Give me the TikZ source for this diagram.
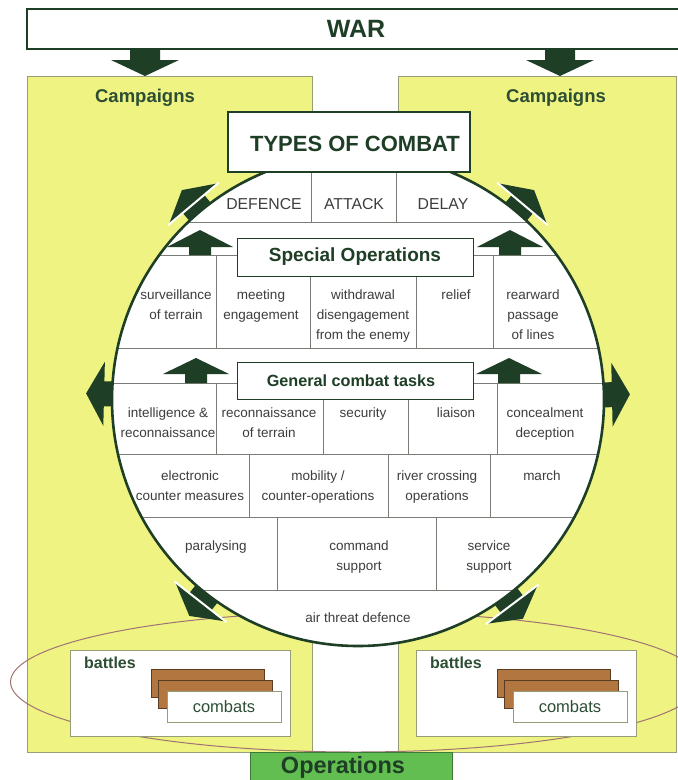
\documentclass[tikz,border=0pt]{standalone}
\usepackage{fontspec}
\setmainfont{Liberation Sans}
\definecolor{yel}{RGB}{238,243,130}
\definecolor{panelb}{RGB}{150,158,120}
\definecolor{dgreen}{RGB}{30,62,38}
\definecolor{tgreen}{RGB}{45,78,52}
\definecolor{txt}{RGB}{60,62,60}
\definecolor{lin}{RGB}{120,125,118}
\definecolor{brownc}{RGB}{178,118,64}
\definecolor{browne}{RGB}{90,60,35}
\definecolor{opgreen}{RGB}{98,190,81}
\definecolor{opedge}{RGB}{60,120,55}
\definecolor{ellc}{RGB}{160,115,115}
\begin{document}
\begin{tikzpicture}[x=1pt,y=-1pt,
  panel/.style={fill=yel,draw=panelb,line width=0.8pt},
  wbox/.style={fill=white,draw=dgreen,line width=1.2pt},
  gline/.style={draw=lin,line width=0.8pt},
  darrow/.style={fill=dgreen,draw=none},
  small/.style={font=\fontsize{13.5}{20}\selectfont,text=txt,align=center,inner sep=0pt},
  caps/.style={font=\fontsize{15.8}{18}\selectfont,text=txt,inner sep=0pt},
  title/.style={font=\bfseries\fontsize{22}{25}\selectfont,text=dgreen,inner sep=0pt},
  camp/.style={font=\bfseries\fontsize{18.5}{21}\selectfont,text=tgreen,inner sep=0pt},
  sub/.style={font=\bfseries\fontsize{19}{22}\selectfont,text=dgreen,inner sep=0pt},
  batt/.style={font=\bfseries\fontsize{16}{19}\selectfont,text=tgreen,inner sep=0pt},
  comb/.style={font=\fontsize{16.5}{19}\selectfont,text=tgreen,inner sep=0pt}]
\useasboundingbox (0,0) rectangle (678,780);
\fill[white] (0,0) rectangle (678,780);

% yellow campaign panels
\draw[panel] (27,76) rectangle (312,752);
\draw[panel] (398,76) rectangle (676,752);
\node[camp] (campL) at (145,98) {Campaigns};
\node[camp] (campR) at (556,98) {Campaigns};

% WAR box
\draw[wbox] (27,9) rectangle (700,49);
\node[font=\bfseries\fontsize{25}{28}\selectfont,text=dgreen,inner sep=0pt] (war) at (356,29) {WAR};

% down arrows from WAR
\foreach \cx in {145,560}{
  \fill[darrow] (\cx-15,49) -- (\cx+15,49) -- (\cx+15,60) -- (\cx+34,60) -- (\cx,76) -- (\cx-34,60) -- (\cx-15,60) -- cycle;
}

% operations ellipse
\draw[ellc,line width=1pt] (355.5,682) ellipse [x radius=345, y radius=70];

% radial arrows (side)
\foreach \ang in {178.6,1.2}{
  \begin{scope}[shift={(358,400)},rotate=\ang]
    \fill[darrow] (240,-12.5) -- (254,-12.5) -- (254,-32) -- (272,0) -- (254,32) -- (254,12.5) -- (240,12.5) -- cycle;
  \end{scope}
}
% radial arrows (diagonal)
\foreach \ang in {130,50,232,-53}{
  \begin{scope}[shift={(358,400)},rotate=\ang]
    \fill[darrow] (240,-14) -- (256,-14) -- (256,-32) -- (274,0) -- (256,32) -- (256,14) -- (240,14) -- cycle;
    \draw[white,line width=2pt] (256,-33) -- (256,33);
  \end{scope}
}

% big circle
\fill[white] (358,400) circle [radius=246];
\begin{scope}
  \clip (358,400) circle [radius=246];
  \foreach \yy in {222,255,348,383,454,517,590}{
    \draw[gline] (100,\yy) -- (620,\yy);
  }
  % dividers
  \draw[gline] (311,172) -- (311,222);
  \draw[gline] (396,172) -- (396,222);
  \draw[gline] (216,255) -- (216,348);
  \draw[gline] (310,276) -- (310,348);
  \draw[gline] (416,276) -- (416,348);
  \draw[gline] (493,255) -- (493,348);
  \draw[gline] (216,383) -- (216,454);
  \draw[gline] (323,399) -- (323,454);
  \draw[gline] (408,399) -- (408,454);
  \draw[gline] (497,383) -- (497,454);
  \draw[gline] (249,454) -- (249,517);
  \draw[gline] (388,454) -- (388,517);
  \draw[gline] (490,454) -- (490,517);
  \draw[gline] (277,517) -- (277,590);
  \draw[gline] (436,517) -- (436,590);
\end{scope}
\draw[dgreen,line width=2.6pt] (358,400) circle [radius=246];

% TYPES OF COMBAT box
\draw[wbox] (228,112) rectangle (470,172);
\node[title] (types) at (355,144) {TYPES OF COMBAT};

% DEFENCE row
\node[caps] (def) at (264,204) {DEFENCE};
\node[caps] (att) at (354,204) {ATTACK};
\node[caps] (del) at (443,204) {DELAY};

% small up arrows
\foreach \cx/\ytop/\ybase/\ybot in {200/230/247/255, 510/230/247/255, 196/358/374/383, 509/358/374/383}{
  \fill[darrow] (\cx-11,\ybot) -- (\cx+11,\ybot) -- (\cx+11,\ybase) -- (\cx+33,\ybase) -- (\cx,\ytop) -- (\cx-33,\ybase) -- (\cx-11,\ybase) -- cycle;
}

% Special operations
\draw[wbox,line width=1pt] (237,238) rectangle (473,276);
\node[sub] (spec) at (355,257) {Special Operations};
\node[small,anchor=north] (surv) at (176,290) {surveillance\\of terrain};
\node[small,anchor=north] (meet) at (261,290) {meeting\\engagement};
\node[small,anchor=north] (with) at (363,290) {withdrawal\\disengagement\\from the enemy};
\node[small,anchor=north] (rel) at (456,290) {relief};
\node[small,anchor=north] (rear) at (533,290) {rearward\\passage\\of lines};

% General combat tasks
\draw[wbox,line width=1pt] (237,362) rectangle (473,399);
\node[font=\bfseries\fontsize{16.2}{19}\selectfont,text=dgreen,inner sep=0pt] (gen) at (351,381) {General combat tasks};
\node[small,anchor=north] (intel) at (168,408) {intelligence \&\\reconnaissance};
\node[small,anchor=north] (recon) at (269,408) {reconnaissance\\of terrain};
\node[small,anchor=north] (sec) at (363,408) {security};
\node[small,anchor=north] (lia) at (456,408) {liaison};
\node[small,anchor=north] (conc) at (545,408) {concealment\\deception};

\node[small,anchor=north] (elec) at (190,471) {electronic\\counter measures};
\node[small,anchor=north] (mob) at (318,471) {mobility /\\counter-operations};
\node[small,anchor=north] (river) at (437,471) {river crossing\\operations};
\node[small,anchor=north] (march) at (542,471) {march};

\node[small,anchor=north] (para) at (216,541) {paralysing};
\node[small,anchor=north] (cmd) at (359,541) {command\\support};
\node[small,anchor=north] (serv) at (489,541) {service\\support};

\node[small] (air) at (358,618) {air threat defence};

% battles boxes
\foreach \dx/\nm in {0/L,346/R}{
  \begin{scope}[xshift=\dx]
    \draw[fill=white,draw=panelb,line width=0.9pt] (70,650) rectangle (290,736);
    \draw[fill=brownc,draw=browne,line width=0.7pt] (151,669) rectangle (264,697);
    \draw[fill=brownc,draw=browne,line width=0.7pt] (158,680) rectangle (272,708);
    \draw[fill=white,draw=panelb,line width=0.8pt] (167,691) rectangle (281,722);
  \end{scope}
}
\node[batt] (battL) at (110,663) {battles};
\node[comb] (combL) at (224,707) {combats};
\node[batt] (battR) at (456,663) {battles};
\node[comb] (combR) at (570,707) {combats};

% Operations box
\draw[fill=opgreen,draw=opedge,line width=0.9pt] (250,752) rectangle (452,790);
\node[title,font=\bfseries\fontsize{23.5}{26}\selectfont] (ops) at (343,767) {Operations};
\end{tikzpicture}
\end{document}
